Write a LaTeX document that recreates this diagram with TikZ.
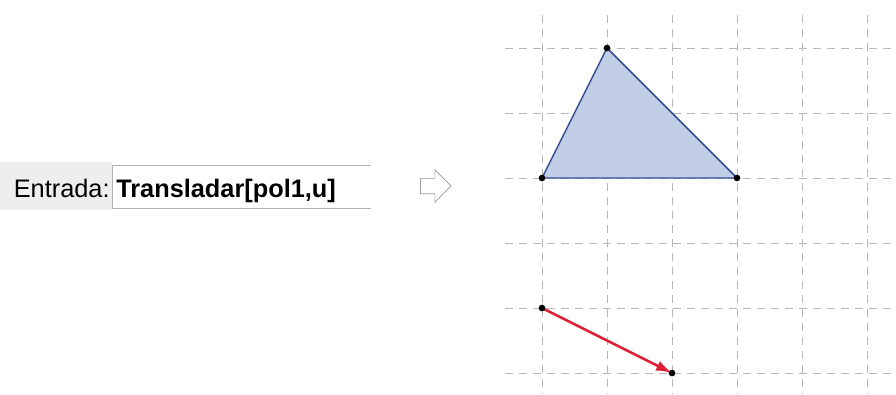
\documentclass[tikz,border=0pt]{standalone}
\usepackage{fontspec}
\setmainfont{Liberation Sans}
\usepackage{xcolor}
\usetikzlibrary{arrows.meta, positioning, shapes.arrows}

\definecolor{polyfill}{RGB}{194,205,232}
\definecolor{polyedge}{RGB}{52,80,148}
\definecolor{vecred}{RGB}{222,32,52}
\definecolor{barbg}{RGB}{238,238,238}

\begin{document}
\begin{tikzpicture}[
    x=0.75pt, y=-0.75pt,
    every node/.style={font=\fontsize{19}{21}\selectfont},
    gridline/.style={draw=black!28, dashed, dash pattern=on 6pt off 4.5pt, line width=0.6pt},
    pt/.style={circle, fill=black, inner sep=0pt, minimum size=5pt},
    bar/.style={rectangle, fill=barbg, minimum width=84pt, minimum height=36pt, inner sep=0pt},
    inbox/.style={rectangle, fill=white, minimum width=193.5pt, minimum height=32pt, inner sep=0pt},
    hollow/.style={single arrow, draw=black!40, fill=white, line width=0.5pt,
                   inner xsep=0pt, inner ysep=5.5pt, minimum height=23pt,
                   single arrow head extend=6.5pt},
    vec/.style={-{Latex[length=12pt, width=8pt]}, draw=vecred, line width=2pt},
]
\useasboundingbox (0,0) rectangle (896,394);

% input bar
\node[bar, anchor=north west] (bar) at (0,162) {};
\node[inbox, anchor=west] (box) at (112,186.5) {};
\draw[black!30, line width=0.6pt] (box.north east) -- (box.north west) -- (box.south west) -- (box.south east);
\node[anchor=base east, inner sep=2pt] (lbl) at ([yshift=-8.5pt]bar.east) {Entrada:};
\node[anchor=base west, inner sep=3pt, font=\fontsize{19}{21}\selectfont\bfseries] (cmd) at ([yshift=-8.5pt]box.west) {Transladar[pol1,u]};

\node[hollow] (arrow) at (432,186) {};

% grid
\foreach \x in {542,607,672,737,802,867}
    \draw[gridline] (\x,15) -- (\x,394);
\foreach \y in {48,113,178,243,308,373}
    \draw[gridline] (505,\y) -- (896,\y);

% polygon pol1
\coordinate (A) at (542,178);
\coordinate (B) at (737,178);
\coordinate (C) at (607,48);
\filldraw[fill=polyfill, draw=polyedge, line width=1.1pt] (A) -- (B) -- (C) -- cycle;

% vector u
\coordinate (U0) at (542,308);
\coordinate (U1) at (672,373);
\draw[vec] (U0) -- (U1);

\foreach \p in {A,B,C,U0,U1}
    \node[pt] at (\p) {};

\end{tikzpicture}
\end{document}
